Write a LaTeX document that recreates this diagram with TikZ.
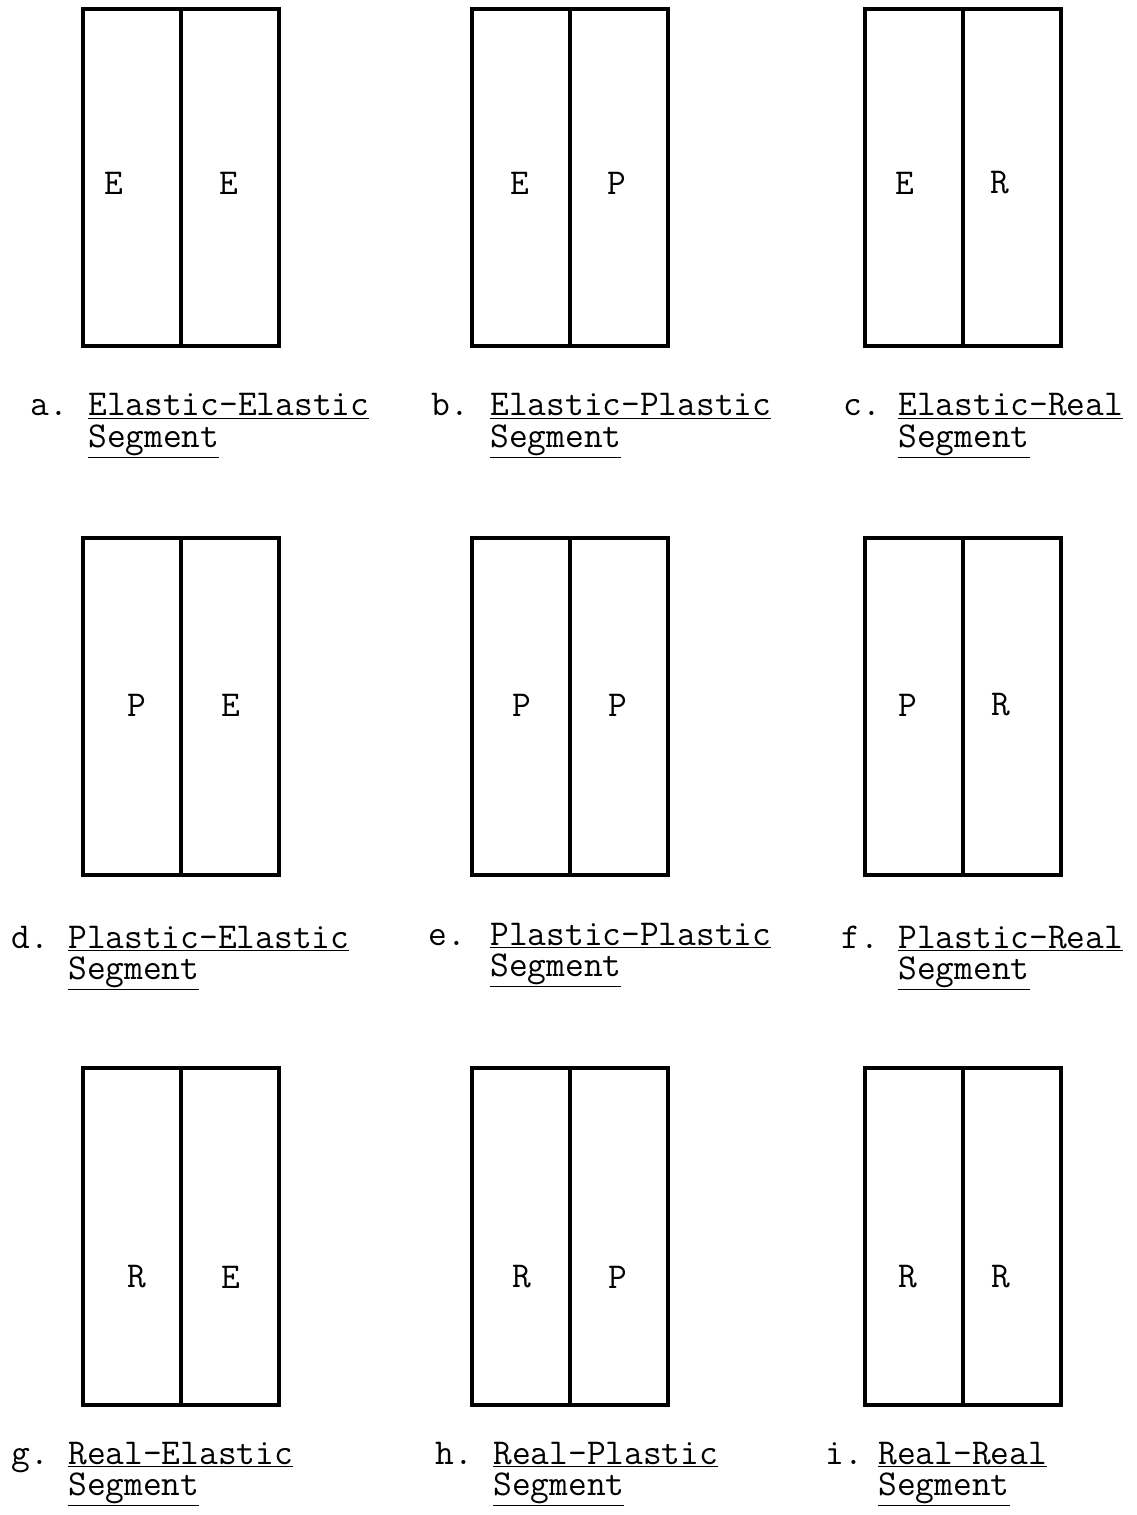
\documentclass[tikz,border=0pt]{standalone}
\usepackage{tikz}
\usetikzlibrary{positioning}
\newcommand{\segfont}{\fontsize{27.3}{30}\selectfont\ttfamily}

\begin{document}
\begin{tikzpicture}[x=0.75pt, y=-0.75pt,
    half/.style={draw, line width=2.4pt, outer sep=0pt, inner sep=0pt,
      minimum width=73.5pt, minimum height=252.75pt, anchor=north west},
    tag/.style={font=\segfont, inner sep=0pt},
    lbl/.style={font=\segfont, inner sep=0pt, anchor=base west}]
  \useasboundingbox (0,0) rectangle (1137,1515);
  % one panel: two halves, their letters, caption
  \foreach \n/\bx/\by/\lft/\lx/\rgt/\rx/\ly/\px/\tx/\ty/\cap in {
      a/83/9/E/114/E/229/183/30/88/416/Elastic-Elastic,
      b/472/9/E/520/P/617/183/431/490/416/Elastic-Plastic,
      c/865/9/E/905/R/1000/183/843/898/416/Elastic-Real,
      d/83/538/P/137/E/231/705/11/68/948/Plastic-Elastic,
      e/472/538/P/522/P/618/705/428/490/945/Plastic-Plastic,
      f/865/538/P/908/R/1001/705/841/898/948/Plastic-Real,
      g/83/1068/R/137/E/231/1277/11/68/1464/Real-Elastic,
      h/472/1068/R/522/P/618/1277/435/493/1464/Real-Plastic,
      i/865/1068/R/908/R/1001/1277/825/878/1464/Real-Real}
  {
    \node[half] (\n-l) at (\bx,\by) {};
    \node[half] (\n-r) at (\n-l.north east) {};
    \node[tag] (\n-lt) at (\lx,\ly) {\lft};
    \node[tag] (\n-rt) at (\rx,\ly) {\rgt};
    \node[lbl] (\n-num) at (\px,\ty) {\n.};
    \node[lbl] (\n-cap) at (\tx,\ty) {\underline{\cap}};
    \node[lbl] (\n-seg) at ([yshift=-23.5pt]\n-cap.base west) {\underline{Segment}};
  }
\end{tikzpicture}
\end{document}
